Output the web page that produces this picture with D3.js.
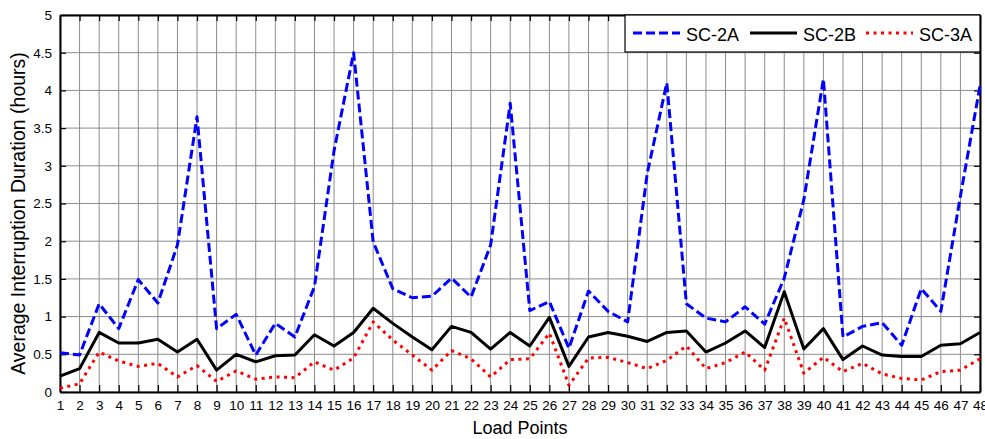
<!DOCTYPE html>
<html>
<head>
<meta charset="utf-8">
<script src="https://cdn.jsdelivr.net/npm/d3@7"></script>
<style>
  body { margin: 0; background: #fff; }
  svg { font-family: "Liberation Sans", Arial, sans-serif; }
</style>
</head>
<body>
<div class="chart-box"></div>
<script>
// load points 1..48
const loadPoints = d3.range(1, 49);

// average interruption duration (hours) per scenario
const sc2a = [0.52, 0.49, 1.17, 0.84, 1.49, 1.18, 1.95, 3.65, 0.84, 1.03,
              0.49, 0.91, 0.73, 1.40, 3.20, 4.50, 1.99, 1.37, 1.25, 1.27,
              1.51, 1.26, 1.95, 3.83, 1.08, 1.20, 0.58, 1.34, 1.07, 0.93,
              2.90, 4.10, 1.17, 0.98, 0.93, 1.13, 0.90, 1.51, 2.55, 4.15,
              0.73, 0.87, 0.92, 0.62, 1.37, 1.07, 2.60, 4.06];
const sc2b = [0.21, 0.31, 0.79, 0.65, 0.65, 0.70, 0.53, 0.70, 0.29, 0.50,
              0.40, 0.48, 0.49, 0.76, 0.61, 0.79, 1.11, 0.91, 0.73, 0.56,
              0.87, 0.79, 0.57, 0.79, 0.61, 0.99, 0.34, 0.73, 0.79, 0.74,
              0.67, 0.79, 0.81, 0.53, 0.65, 0.81, 0.59, 1.33, 0.57, 0.84,
              0.43, 0.61, 0.49, 0.47, 0.47, 0.62, 0.64, 0.79];
const sc3a = [0.05, 0.11, 0.53, 0.41, 0.34, 0.38, 0.20, 0.35, 0.14, 0.28,
              0.17, 0.20, 0.19, 0.40, 0.29, 0.45, 0.93, 0.69, 0.49, 0.29,
              0.55, 0.44, 0.20, 0.43, 0.44, 0.78, 0.09, 0.45, 0.46, 0.39,
              0.31, 0.42, 0.61, 0.31, 0.39, 0.53, 0.29, 0.98, 0.25, 0.46,
              0.27, 0.38, 0.24, 0.18, 0.16, 0.27, 0.29, 0.44];

const yTicks = d3.range(0, 5.01, 0.5);
const seriesNames = ["SC-2A", "SC-2B", "SC-3A"];

const MARGIN = { left: 60, right: 5, top: 15, bottom: 47 };
const WIDTH = 985 - MARGIN.left - MARGIN.right,
      HEIGHT = 439 - MARGIN.top - MARGIN.bottom;

const svg = d3.select(".chart-box").append("svg")
    .attr("width", 985)
    .attr("height", 439);

const chart = svg.append("g")
    .attr("transform", `translate(${MARGIN.left},${MARGIN.top})`);

// scales
const x = d3.scaleLinear().domain([1, 48]).range([0, WIDTH]);
const y = d3.scaleLinear().domain([0, 5]).range([HEIGHT, 0]);

// grid
const grid = chart.append("g").attr("stroke", "#8c8c8c").attr("stroke-width", 1);
grid.selectAll(".vgrid").data(loadPoints).enter().append("line")
    .attr("x1", d => x(d)).attr("x2", d => x(d))
    .attr("y1", 0).attr("y2", HEIGHT);
grid.selectAll(".hgrid").data(yTicks).enter().append("line")
    .attr("x1", 0).attr("x2", WIDTH)
    .attr("y1", d => y(d)).attr("y2", d => y(d));

// axes
const xAxis = chart.append("g")
    .attr("transform", `translate(0,${HEIGHT})`)
    .call(d3.axisBottom(x).tickValues(loadPoints).tickFormat(d3.format("d"))
        .tickSize(-7).tickSizeOuter(0).tickPadding(8));
const xTop = chart.append("g")
    .call(d3.axisTop(x).tickValues(loadPoints).tickFormat("")
        .tickSize(-6).tickSizeOuter(0));
const yAxis = chart.append("g")
    .call(d3.axisLeft(y).tickValues(yTicks).tickFormat(d => String(d))
        .tickSize(-6).tickSizeOuter(0).tickPadding(8));
const yRight = chart.append("g")
    .attr("transform", `translate(${WIDTH},0)`)
    .call(d3.axisRight(y).tickValues(yTicks).tickFormat("")
        .tickSize(-6).tickSizeOuter(0));

[xAxis, xTop, yAxis, yRight].forEach(a => {
    a.select(".domain").attr("stroke", "#000").attr("stroke-width", 2);
    a.selectAll(".tick line").attr("stroke", "#000").attr("stroke-width", 1.2);
    a.selectAll(".tick text").attr("fill", "#000")
        .style("font-size", "13.5px")
        .style("font-family", "'Liberation Sans', Arial, sans-serif");
});

// lines
const series = [
    { name: seriesNames[0], values: sc2a, color: "#0000ff", dash: "9,4" },
    { name: seriesNames[1], values: sc2b, color: "#000000", dash: null },
    { name: seriesNames[2], values: sc3a, color: "#ff0000", dash: "3,4.5" }
];

const line = d3.line()
    .x((d, i) => x(loadPoints[i]))
    .y(d => y(d));

chart.selectAll(".series")
    .data(series)
    .enter()
    .append("path")
    .attr("d", d => line(d.values))
    .attr("fill", "none")
    .attr("stroke", d => d.color)
    .attr("stroke-width", 3)
    .attr("stroke-dasharray", d => d.dash)
    .attr("stroke-linejoin", "round");

// legend
const legend = chart.append("g")
    .attr("transform", `translate(${WIDTH - 355},0)`);
legend.append("rect")
    .attr("width", 355).attr("height", 37)
    .attr("fill", "#fff").attr("stroke", "#000").attr("stroke-width", 1.2);

const legendX = [8, 125, 241];
const items = legend.selectAll(".item")
    .data(series)
    .enter()
    .append("g")
    .attr("transform", (d, i) => `translate(${legendX[i]},18)`);
items.append("line")
    .attr("x1", 0).attr("x2", 47)
    .attr("stroke", d => d.color)
    .attr("stroke-width", 3)
    .attr("stroke-dasharray", d => d.dash);
items.append("text")
    .attr("x", 53).attr("y", 8)
    .style("font-size", "18px")
    .attr("fill", "#000")
    .text(d => d.name);

// axis titles
svg.append("text")
    .attr("x", MARGIN.left + WIDTH / 2)
    .attr("y", 434)
    .attr("text-anchor", "middle")
    .style("font-size", "18px")
    .text("Load Points");

svg.append("text")
    .attr("transform", `translate(25,${MARGIN.top + HEIGHT / 2 + 10}) rotate(-90)`)
    .attr("text-anchor", "middle")
    .style("font-size", "19.5px")
    .text("Average Interruption Duration (hours)");
</script>
</body>
</html>
